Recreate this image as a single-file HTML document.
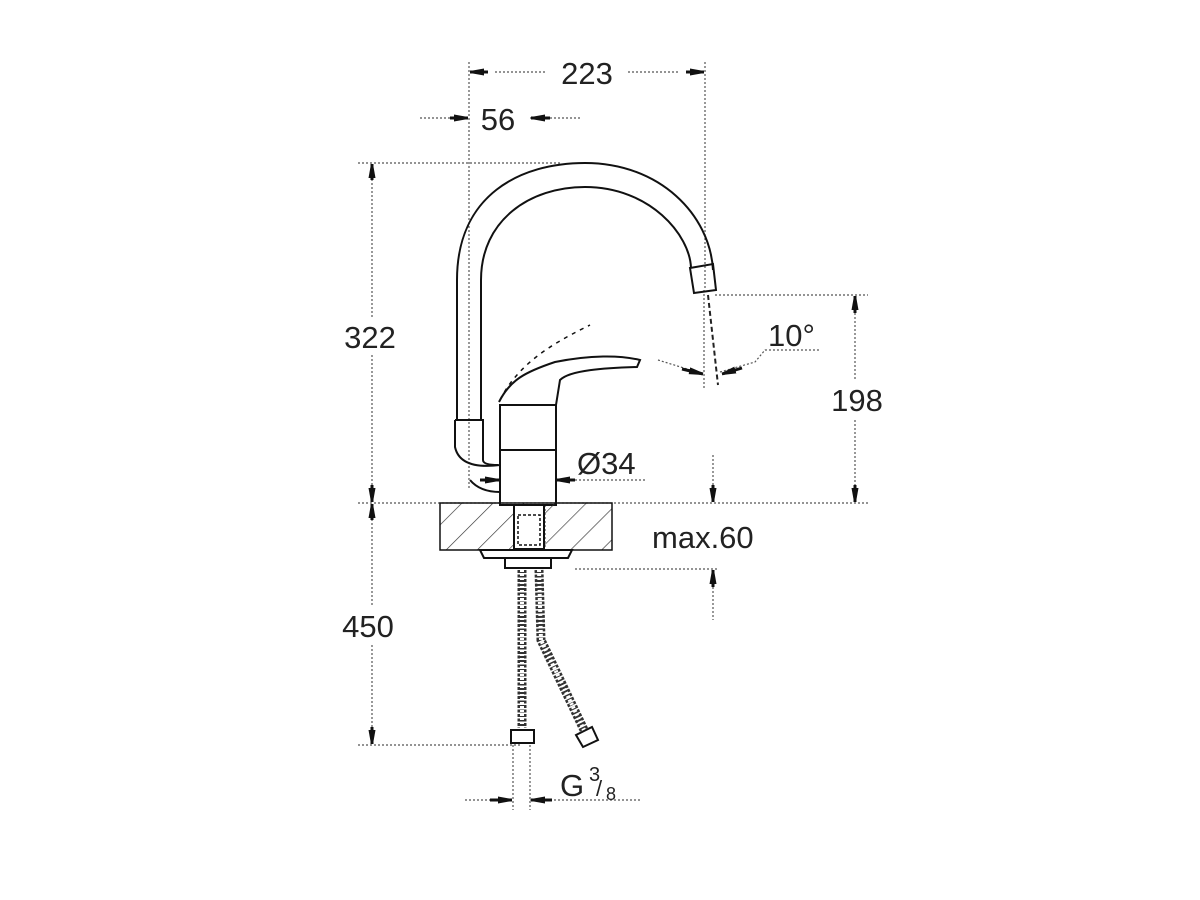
<!DOCTYPE html>
<html><head><style>html,body{margin:0;padding:0;background:#fff}svg{display:block}</style></head>
<body>
<svg width="1200" height="900" viewBox="0 0 1200 900" xmlns="http://www.w3.org/2000/svg" font-family="Liberation Sans, sans-serif">
<defs>
<pattern id="h" width="22" height="22" patternUnits="userSpaceOnUse" patternTransform="rotate(45)">
<line x1="0" y1="0" x2="0" y2="22" stroke="#333" stroke-width="1.3"/>
</pattern>
<marker id="a" markerWidth="14" markerHeight="8" refX="14" refY="4" orient="auto" markerUnits="userSpaceOnUse"><path d="M0,0.5 L14,3 L14,5 L0,7.5 Z" fill="#111"/></marker>
</defs>
<g stroke="#555" stroke-width="1.2" stroke-dasharray="2,2" fill="none">
<line x1="469" y1="62" x2="469" y2="490"/>
<line x1="705" y1="62" x2="705" y2="290"/>
<line x1="358" y1="163" x2="560" y2="163"/>
<line x1="358" y1="503" x2="868" y2="503"/>
<line x1="358" y1="745" x2="520" y2="745"/>
<line x1="715" y1="295" x2="868" y2="295"/>
<line x1="575" y1="569" x2="718" y2="569"/>
<line x1="372" y1="175" x2="372" y2="318"/>
<line x1="372" y1="355" x2="372" y2="490"/>
<line x1="372" y1="515" x2="372" y2="605"/>
<line x1="372" y1="645" x2="372" y2="735"/>
<line x1="855" y1="305" x2="855" y2="380"/>
<line x1="855" y1="420" x2="855" y2="495"/>
<line x1="713" y1="455" x2="713" y2="495"/>
<line x1="713" y1="575" x2="713" y2="620"/>
<line x1="495" y1="72" x2="545" y2="72"/>
<line x1="628" y1="72" x2="680" y2="72"/>
<line x1="420" y1="118" x2="465" y2="118"/>
<line x1="530" y1="118" x2="580" y2="118"/>
<line x1="490" y1="480" x2="500" y2="480"/>
<line x1="555" y1="480" x2="645" y2="480"/>
<line x1="465" y1="800" x2="513" y2="800"/>
<line x1="530" y1="800" x2="640" y2="800"/>
<line x1="513" y1="745" x2="513" y2="810"/>
<line x1="530" y1="745" x2="530" y2="810"/>
<line x1="704" y1="290" x2="704" y2="390"/>
<line x1="708" y1="295" x2="718" y2="385" stroke-dasharray="5,3" stroke="#222" stroke-width="2"/>
<line x1="658" y1="360" x2="700" y2="373"/>
<polyline points="720,372 755,362 765,350 820,350"/>
<line x1="520" y1="505" x2="520" y2="560"/>
<line x1="545" y1="505" x2="545" y2="560"/>
</g>
<g stroke="#111" stroke-width="3" fill="none" marker-end="url(#a)">
<line x1="488" y1="72" x2="470" y2="72"/>
<line x1="686" y1="72" x2="704" y2="72"/>
<line x1="450" y1="118" x2="468" y2="118"/>
<line x1="550" y1="118" x2="531" y2="118"/>
<line x1="372" y1="180" x2="372" y2="164"/>
<line x1="372" y1="485" x2="372" y2="502"/>
<line x1="372" y1="520" x2="372" y2="504"/>
<line x1="372" y1="727" x2="372" y2="744"/>
<line x1="855" y1="313" x2="855" y2="296"/>
<line x1="855" y1="485" x2="855" y2="502"/>
<line x1="713" y1="485" x2="713" y2="502"/>
<line x1="713" y1="587" x2="713" y2="570"/>
<line x1="480" y1="480" x2="499" y2="480"/>
<line x1="575" y1="480" x2="556" y2="480"/>
<line x1="490" y1="800" x2="512" y2="800"/>
<line x1="552" y1="800" x2="531" y2="800"/>
<line x1="682" y1="369" x2="703" y2="374"/>
<line x1="742" y1="368" x2="722" y2="374"/>
</g>
<g fill="#222" font-size="31">
<text x="587" y="84" text-anchor="middle">223</text>
<text x="498" y="130" text-anchor="middle">56</text>
<text x="370" y="348" text-anchor="middle">322</text>
<text x="368" y="637" text-anchor="middle">450</text>
<text x="857" y="411" text-anchor="middle">198</text>
<text x="768" y="346">10°</text>
<text x="577" y="474">Ø34</text>
<text x="652" y="548">max.60</text>
<text x="560" y="796">G</text>
<text x="589" y="781" font-size="20">3</text>
<text x="596" y="796" font-size="22">/</text>
<text x="606" y="800" font-size="18">8</text>
</g>
<g stroke="#111" stroke-width="2" fill="none">
<path d="M457,420 L457,280 C457,195 520,163 585,163 C660,163 710,215 713,270"/>
<path d="M481,420 L481,280 C481,220 530,187 585,187 C650,187 690,235 691,268"/>
<path d="M690,268 L713,264 L716,290 L694,293 Z"/>
<path d="M455,420 L483,420 L483,460 Q483,465 498,465"/>
<path d="M455,420 L455,447 Q460,470 500,465"/>
<path d="M470,480 Q480,492 500,492"/>
<rect x="500" y="405" width="56" height="100"/>
<line x1="500" y1="450" x2="556" y2="450"/>
<path d="M499,402 C510,380 525,372 555,362 C590,355 620,355 640,360 L637,367 C605,368 570,370 560,380 L556,405"/>
<path d="M500,400 C520,360 560,340 590,325" stroke-dasharray="4,5" stroke-width="1.5"/>
<rect x="440" y="503" width="172" height="47" fill="url(#h)" stroke-width="1.5"/>
<rect x="514" y="505" width="30" height="44" fill="#fff"/>
<rect x="518" y="515" width="22" height="30" stroke-width="1.5" stroke-dasharray="3,2"/>
<path d="M480,550 L572,550 L568,558 L484,558 Z" fill="#fff"/>
<rect x="505" y="558" width="46" height="10" fill="#fff"/>
</g>
<g stroke="#333" stroke-width="9" fill="none" stroke-dasharray="3,1.5">
<path d="M522,570 L522,728"/>
<path d="M539,570 L541,640 L585,732"/>
</g>
<g stroke="#fff" stroke-width="4" fill="none" stroke-dasharray="2,2">
<path d="M522,570 L522,728"/>
<path d="M539,570 L541,640 L585,732"/>
</g>
<g stroke="#111" stroke-width="2" fill="#fff">
<rect x="511" y="730" width="23" height="13"/>
<path d="M576,735 L592,727 L598,740 L583,747 Z"/>
</g>
</svg>
</body></html>
